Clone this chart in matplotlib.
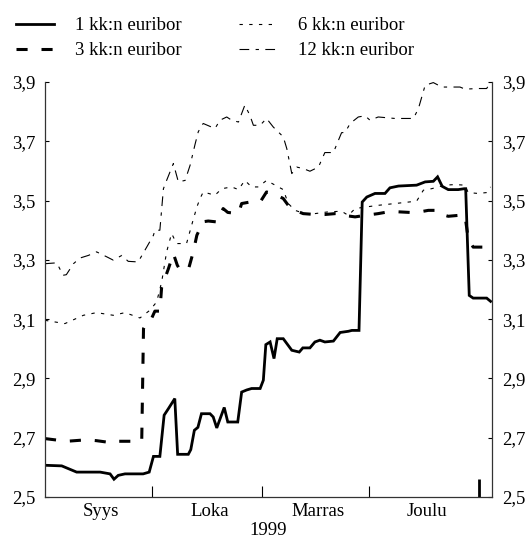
import matplotlib
matplotlib.use("Agg")
import matplotlib.pyplot as plt
import matplotlib.dates as mdates
import numpy as np
import datetime as dt

plt.rcParams['font.family'] = ['Liberation Serif', 'DejaVu Serif']
plt.rcParams['lines.scale_dashes'] = False

# ---- data (x = days after 1 Sep 1999, y = rate %) ----
d1 = [0, 4.7, 8.9, 15.5, 18.3, 19.4, 20.6, 22.5, 27.6, 29.3, 30.5, 32.3, 33.5, 34.7,
      36.5, 37.3, 40.3, 41.0, 42.0, 43.0, 44.0, 46.4, 47.3, 48.3, 50.4, 51.4, 54.2,
      55.3, 56.7, 58.1, 60.5, 61.4, 62.1, 63.3, 64.4, 65.3, 67.0, 69.4, 71.5, 72.5,
      74.5, 75.9, 77.3, 78.7, 81.1, 83.0, 85.3, 86.3, 88.3, 89.2, 90.5, 92.8, 95.6,
      97.0, 99.4, 104.5, 106.9, 109.2, 110.4, 111.7, 113.4, 116.2, 117.9, 118.3,
      119.3, 120.4, 124.2, 125.3]
v1 = [2.607, 2.605, 2.584, 2.584, 2.578, 2.560, 2.573, 2.578, 2.578, 2.584, 2.637,
      2.637, 2.776, 2.798, 2.832, 2.644, 2.644, 2.660, 2.725, 2.735, 2.781, 2.781,
      2.770, 2.733, 2.802, 2.753, 2.753, 2.854, 2.861, 2.866, 2.866, 2.894, 3.014,
      3.023, 2.967, 3.034, 3.034, 2.995, 2.989, 3.003, 3.003, 3.023, 3.029, 3.023,
      3.026, 3.055, 3.059, 3.062, 3.062, 3.495, 3.512, 3.524, 3.524, 3.543, 3.549,
      3.552, 3.563, 3.565, 3.580, 3.548, 3.537, 3.537, 3.540, 3.540, 3.180, 3.171,
      3.171, 3.160]

d3 = [0, 6.1, 11.7, 14.5, 19.4, 20.6, 27.2, 27.7, 28.4, 29.5, 30.9, 32.3, 32.8, 33.7,
      34.7, 36.1, 37.2, 38.0, 39.8, 40.5, 41.7, 42.7, 43.6, 44.1, 45.9, 48.3, 50.1,
      51.4, 54.4, 55.3, 57.6, 60.5, 62.3, 64.2, 67.0, 68.4, 70.3, 72.6, 75.9, 78.7,
      81.6, 83.9, 85.3, 87.2, 90.0, 93.7, 96.5, 99.4, 102.6, 105.5, 107.8, 110.9,
      112.5, 113.4, 116.2, 118.1, 119.0, 120.4, 123.3, 125.3]
v3 = [2.697, 2.688, 2.693, 2.690, 2.682, 2.688, 2.688, 3.068, 3.085, 3.090, 3.127,
      3.127, 3.208, 3.237, 3.270, 3.321, 3.282, 3.265, 3.265, 3.275, 3.327, 3.383,
      3.406, 3.428, 3.431, 3.428, 3.473, 3.460, 3.456, 3.490, 3.495, 3.495, 3.529,
      3.524, 3.507, 3.484, 3.467, 3.456, 3.453, 3.453, 3.456, 3.456, 3.448, 3.445,
      3.450, 3.456, 3.462, 3.462, 3.460, 3.462, 3.467, 3.467, 3.450, 3.447, 3.450,
      3.450, 3.372, 3.343, 3.343, 3.340]

d6 = [0, 5.6, 10.8, 14.5, 19.2, 22.5, 26.7, 29.5, 31.4, 32.8, 34.2, 35.6, 37.0, 39.8,
      41.5, 42.7, 43.6, 44.5, 47.8, 49.7, 52.5, 54.4, 56.2, 58.1, 60.0, 62.3, 64.7,
      67.0, 68.4, 70.3, 73.1, 75.9, 79.7, 83.4, 85.3, 87.2, 90.0, 93.7, 98.4, 104.5,
      106.4, 108.7, 112.5, 115.3, 118.1, 119.0, 121.8, 124.2, 125.3]
v6 = [3.096, 3.085, 3.113, 3.122, 3.113, 3.122, 3.104, 3.130, 3.158, 3.225, 3.327,
      3.389, 3.355, 3.355, 3.428, 3.478, 3.507, 3.529, 3.518, 3.540, 3.546, 3.537,
      3.568, 3.546, 3.546, 3.568, 3.552, 3.537, 3.490, 3.467, 3.456, 3.456, 3.462,
      3.464, 3.450, 3.473, 3.478, 3.484, 3.490, 3.498, 3.535, 3.540, 3.552, 3.554,
      3.552, 3.527, 3.524, 3.527, 3.546]

d12 = [0, 3.3, 5.1, 6.0, 8.0, 9.8, 12.2, 14.5, 17.4, 19.2, 21.6, 23.4, 26.2, 28.6,
       30.5, 30.9, 32.3, 33.3, 34.2, 36.1, 37.5, 39.4, 40.8, 42.2, 43.1, 44.1, 44.5,
       47.8, 49.2, 51.1, 52.5, 54.4, 56.2, 57.6, 58.6, 60.5, 62.3, 64.2, 67.0, 68.0,
       69.4, 70.8, 72.6, 74.5, 76.9, 78.7, 81.1, 82.5, 83.4, 84.4, 85.8, 88.1, 90.0,
       91.4, 93.7, 98.4, 103.6, 105.0, 106.9, 109.2, 111.6, 114.4, 116.7, 118.1,
       121.8, 124.2, 125.3]
v12 = [3.287, 3.290, 3.248, 3.250, 3.287, 3.306, 3.315, 3.327, 3.310, 3.299, 3.315,
       3.295, 3.293, 3.343, 3.383, 3.400, 3.400, 3.540, 3.568, 3.625, 3.563, 3.568,
       3.619, 3.690, 3.732, 3.754, 3.760, 3.743, 3.771, 3.782, 3.771, 3.765, 3.822,
       3.788, 3.754, 3.754, 3.777, 3.748, 3.715, 3.675, 3.591, 3.613, 3.608, 3.599,
       3.613, 3.662, 3.662, 3.703, 3.729, 3.730, 3.760, 3.782, 3.786, 3.771, 3.782,
       3.777, 3.777, 3.810, 3.889, 3.898, 3.883, 3.883, 3.883, 3.876, 3.878, 3.878,
       3.900]

labels = ['1 kk:n euribor', '3 kk:n euribor', '6 kk:n euribor', '12 kk:n euribor']
month_labels = ['Syys', 'Loka', 'Marras', 'Joulu']
month_starts = ['1999-09-01', '1999-10-01', '1999-11-01', '1999-12-01', '2000-01-01']
year_label = '1999'
y_ticks = [2.5, 2.7, 2.9, 3.1, 3.3, 3.5, 3.7, 3.9]

FS = 13.5

# ---- figure ----
base = mdates.date2num(dt.datetime(1999, 9, 1))
fig = plt.figure(figsize=(5.26, 5.40), dpi=100)
ax = fig.add_axes([45/526, 1-497/540, (492-45)/526, (497-82)/540])

def X(d):
    return base + np.asarray(d)

l1, = ax.plot(X(d1), v1, color='black', lw=2.0, solid_joinstyle='miter')
l3, = ax.plot(X(d3), v3, color='black', lw=2.2, dashes=(8.0, 10.0))
l6, = ax.plot(X(d6), v6, color='black', lw=0.8, dashes=(2.4, 4.6))
l12, = ax.plot(X(d12), v12, color='black', lw=0.8, dashes=(7.0, 4.6, 2.4, 4.6))

ax.set_xlim(base, base + 125.7)
ax.set_ylim(2.5, 3.9)

# spines
ax.spines['top'].set_visible(False)
for s in ['left', 'right', 'bottom']:
    ax.spines[s].set_color('#333333')
    ax.spines[s].set_linewidth(0.9)

# y axis both sides
ax.set_yticks(y_ticks)
ax.set_yticklabels([f"{t:.1f}".replace('.', ',') for t in y_ticks])
ax.tick_params(axis='y', which='major', left=True, right=True, labelleft=True,
               labelright=True, direction='in', length=3, width=0.8, pad=7,
               labelsize=FS, colors='black')

# x axis: month boundaries as major ticks, labels at month midpoints
starts = [mdates.date2num(dt.datetime.strptime(s, '%Y-%m-%d')) for s in month_starts]
ax.set_xticks(starts[1:])
ax.set_xticklabels([])
mids = [(starts[i] + starts[i+1]) / 2 + 0.8 for i in range(4)]
ax.set_xticks(mids, minor=True)
ax.set_xticklabels(month_labels, minor=True)
ax.tick_params(axis='x', which='major', direction='in', length=8, width=0.8, top=False)
ax.tick_params(axis='x', which='minor', length=0, pad=4, labelsize=FS)
# year boundary tick heavier
yt = ax.xaxis.get_major_ticks()[-1]
yt.tick1line.set_markersize(13)
yt.tick1line.set_markeredgewidth(2.0)

fig.text((45 + 492) / 2 / 526, 1 - 535/540, year_label, ha='center', va='baseline',
         fontsize=FS)

# legend
fig.legend([l1, l3, l6, l12], labels, ncol=2, loc='upper left',
           bbox_to_anchor=(16/526, 1 - 17/540), frameon=False, fontsize=FS,
           handlelength=2.0, handletextpad=1.15, columnspacing=3.05,
           labelspacing=0.42, borderpad=0, borderaxespad=0)

fig.savefig('out.png', dpi=100)
